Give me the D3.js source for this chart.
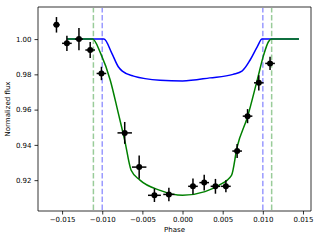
<!DOCTYPE html>
<html>
<head>
<meta charset="utf-8">
<script src="https://cdn.jsdelivr.net/npm/d3@7"></script>
<style>
  body { margin: 0; background: #fff; }
  svg text { font-family: "DejaVu Sans", sans-serif; }
</style>
</head>
<body>
<svg id="chart" width="320" height="240"></svg>
<script>
// observed points
const phase = [-0.0157,-0.0144,-0.0129,-0.0115,-0.0101,-0.0072,-0.0054,-0.0035,-0.0017,0.0013,0.0027,0.0041,0.0054,0.0068,0.0081,0.0095,0.0109];
const flux  = [1.0081,0.9976,1.0000,0.9938,0.9805,0.9468,0.9274,0.9114,0.9119,0.9165,0.9186,0.9165,0.9165,0.9365,0.9563,0.9752,0.9862];
const yerr  = [0.0044,0.0043,0.0063,0.0045,0.0038,0.0062,0.0066,0.0038,0.0038,0.0045,0.0045,0.0042,0.0034,0.0040,0.0040,0.0043,0.0038];
const xerr  = [0.0004,0.0006,0.0005,0.0006,0.0006,0.0009,0.0009,0.0008,0.0007,0.0006,0.0006,0.0006,0.0006,0.0006,0.0006,0.0006,0.0006];

// model curves
const greenPhase = [-0.0144,-0.0112,-0.0102,-0.0090,-0.0080,-0.0072,-0.0064,-0.0053,-0.0028,0.0,0.0028,0.0045,0.0061,0.0068,0.0081,0.0093,0.0101,0.0107,0.0111,0.0145];
const greenFlux  = [1.0,1.0,0.9919,0.9767,0.958,0.9426,0.9256,0.920,0.9142,0.9114,0.9135,0.917,0.9227,0.9388,0.956,0.9767,0.9909,0.9985,1.0,1.0];
const bluePhase  = [-0.0144,-0.0098,-0.0088,-0.0080,-0.0075,-0.0061,-0.0028,0.0,0.0034,0.0063,0.0074,0.0084,0.0093,0.0099,0.0145];
const blueFlux   = [1.0,1.0,0.9919,0.9843,0.9818,0.979,0.9767,0.9763,0.978,0.980,0.9818,0.988,0.9956,1.0,1.0];

const greenContacts = [-0.0111, 0.0111];
const blueContacts  = [-0.0100, 0.0100];

const xTicks = [-0.015,-0.010,-0.005,0.000,0.005,0.010,0.015];
const yTicks = [0.92,0.94,0.96,0.98,1.00];

const svg = d3.select('#chart'),
    margin = {top: 7, right: 9, bottom: 29, left: 38},
    width = 320 - margin.left - margin.right,
    height = 240 - margin.top - margin.bottom;

let x = d3.scaleLinear().domain([-0.018, 0.016]).range([0, width]),
    y = d3.scaleLinear().domain([0.9025, 1.0182]).range([height, 0]);

let g = svg.append('g').attr('transform', 'translate(' + margin.left + ',' + margin.top + ')');

// contact lines
const vlines = (vals, col) => {
  g.selectAll(null).data(vals).enter().append('line')
    .attr('x1', d => x(d)).attr('x2', d => x(d))
    .attr('y1', 0).attr('y2', height)
    .attr('stroke', col).attr('stroke-width', 1.5)
    .attr('stroke-dasharray', '5.5,2.4');
};
vlines(greenContacts, 'rgba(0,128,0,0.4)');
vlines(blueContacts, 'rgba(0,0,255,0.4)');

let line = d3.line().x(d => x(d[0])).y(d => y(d[1])).curve(d3.curveMonotoneX);

g.append('path').datum(d3.zip(bluePhase, blueFlux))
  .attr('d', line).attr('fill', 'none').attr('stroke', '#0000ff').attr('stroke-width', 1.5);
g.append('path').datum(d3.zip(greenPhase, greenFlux))
  .attr('d', line).attr('fill', 'none').attr('stroke', '#008000').attr('stroke-width', 1.5);

// error bars + markers
let pts = phase.map((p, i) => ({p: p, f: flux[i], ye: yerr[i], xe: xerr[i]}));
let pg = g.selectAll('.pt').data(pts).enter().append('g').attr('class', 'pt');
pg.append('line')
  .attr('x1', d => x(d.p)).attr('x2', d => x(d.p))
  .attr('y1', d => y(d.f - d.ye)).attr('y2', d => y(d.f + d.ye))
  .attr('stroke', '#000').attr('stroke-width', 1.5);
pg.append('line')
  .attr('x1', d => x(d.p - d.xe)).attr('x2', d => x(d.p + d.xe))
  .attr('y1', d => y(d.f)).attr('y2', d => y(d.f))
  .attr('stroke', '#000').attr('stroke-width', 1.5);
pg.append('circle')
  .attr('cx', d => x(d.p)).attr('cy', d => y(d.f)).attr('r', 3)
  .attr('fill', '#000');

// axes
let xAxis = d3.axisBottom(x).tickValues(xTicks).tickSize(3.5).tickPadding(3)
    .tickFormat(d => d3.format('.3f')(d).replace('-', '\u2212'));
let yAxis = d3.axisLeft(y).tickValues(yTicks).tickSize(3.5).tickPadding(3)
    .tickFormat(d3.format('.2f'));

let xa = g.append('g').attr('transform', 'translate(0,' + height + ')').call(xAxis);
let ya = g.append('g').call(yAxis);
[xa, ya].forEach(a => {
  a.select('.domain').remove();
  a.selectAll('text').attr('font-size', 7).attr('fill', '#000');
  a.selectAll('line').attr('stroke', '#000').attr('stroke-width', 0.8);
});

// spines
g.append('line').attr('x1', 0).attr('x2', width).attr('y1', 0).attr('y2', 0)
  .attr('stroke', '#999').attr('stroke-width', 2);
g.append('line').attr('x1', 0).attr('x2', 0).attr('y1', 0).attr('y2', height)
  .attr('stroke', '#000').attr('stroke-width', 0.8);
g.append('line').attr('x1', width).attr('x2', width).attr('y1', 0).attr('y2', height)
  .attr('stroke', '#000').attr('stroke-width', 0.8);
g.append('line').attr('x1', 0).attr('x2', width).attr('y1', height).attr('y2', height)
  .attr('stroke', '#000').attr('stroke-width', 0.8);

svg.append('text').attr('x', margin.left + width / 2).attr('y', 232)
  .attr('text-anchor', 'middle').attr('font-size', 7).text('Phase');
svg.append('text').attr('transform', 'translate(10,' + (margin.top + height / 2) + ') rotate(-90)')
  .attr('text-anchor', 'middle').attr('font-size', 7).text('Normalized flux');
</script>
</body>
</html>
